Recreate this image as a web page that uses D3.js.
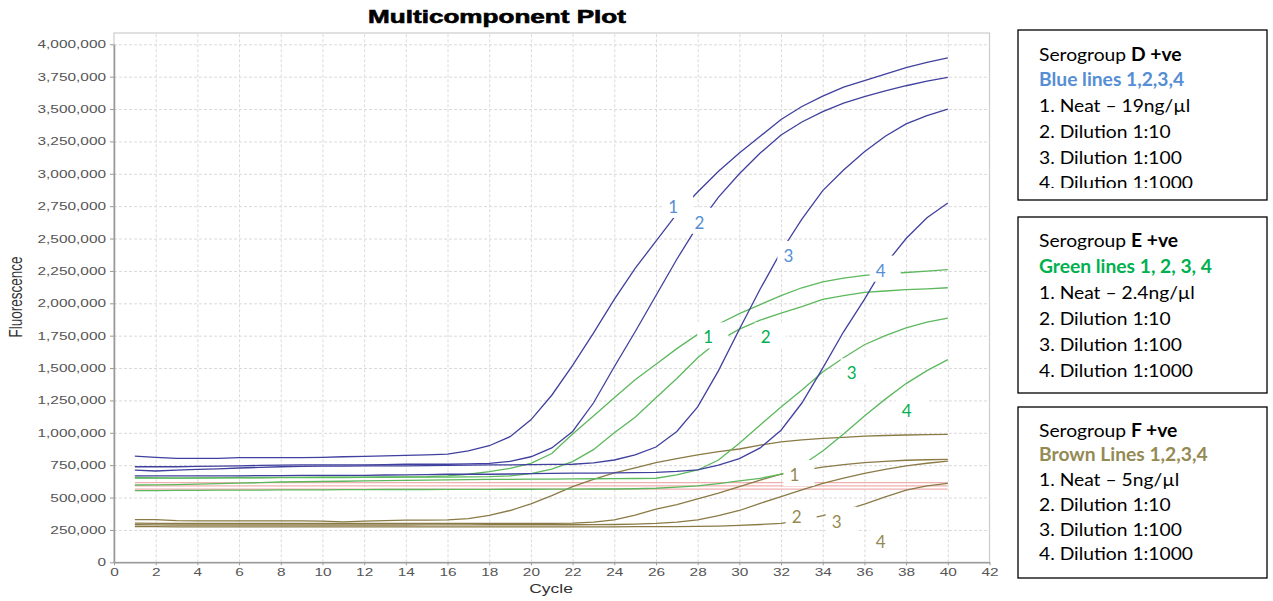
<!DOCTYPE html>
<html>
<head>
<meta charset="utf-8">
<script src="https://cdn.jsdelivr.net/npm/d3@7"></script>
<style>
  body { margin: 0; background: #fff; }
  svg { display: block; }
</style>
</head>
<body>
<svg id="chart" width="1273" height="601"></svg>
<script>
// cycle numbers on the x axis
var cycles = [1,2,3,4,5,6,7,8,9,10,11,12,13,14,15,16,17,18,19,20,
              21,22,23,24,25,26,27,28,29,30,31,32,33,34,35,36,37,38,39,40];
var xTicks = [0,2,4,6,8,10,12,14,16,18,20,22,24,26,28,30,32,34,36,38,40,42];
var yTicks = [0,250000,500000,750000,1000000,1250000,1500000,1750000,2000000,
              2250000,2500000,2750000,3000000,3250000,3500000,3750000,4000000];

// fluorescence, in thousands, per cycle
// serogroup D (blue)
var blue1 = [820,810,803,803,803,808,808,808,808,810,815,818,822,826,830,836,860,900,970,1100,
             1290,1520,1770,2030,2270,2480,2690,2860,3020,3160,3290,3420,3520,3600,3670,3720,3770,3820,3860,3895];
var blue2 = [738,738,738,740,742,745,748,750,752,752,752,753,755,757,757,757,760,764,780,815,
             883,1010,1230,1510,1780,2060,2340,2600,2820,3000,3160,3300,3400,3480,3545,3595,3640,3680,3715,3745];
var blue3 = [712,705,712,718,722,728,733,738,740,742,743,744,744,745,746,748,750,752,753,755,
             756,757,768,790,830,890,1010,1200,1480,1800,2110,2400,2650,2870,3030,3170,3290,3385,3450,3500];
var blue4 = [668,668,668,668,668,668,670,670,672,672,672,672,674,675,677,680,680,680,682,684,
             686,688,688,690,692,695,702,713,751,800,883,1020,1230,1500,1780,2030,2300,2500,2660,2775];
// serogroup E (green)
var green1 = [655,652,650,650,652,655,655,656,656,657,658,658,659,660,662,668,680,700,725,764,
              840,990,1130,1270,1410,1530,1650,1760,1840,1920,1990,2060,2120,2165,2195,2215,2228,2238,2248,2260];
var green2 = [650,650,650,652,652,653,653,654,655,655,655,656,656,657,657,658,660,662,668,685,
              720,777,870,1000,1120,1270,1420,1580,1710,1800,1870,1925,1975,2030,2060,2085,2095,2105,2112,2120];
var green3 = [597,598,600,604,608,612,615,620,622,624,626,628,630,632,634,636,638,640,641,642,
              643,644,645,646,647,649,675,713,790,920,1060,1200,1330,1470,1580,1680,1750,1810,1855,1885];
var green4 = [553,553,555,556,557,558,558,560,560,560,561,561,562,562,562,563,563,563,564,564,
              565,565,566,566,568,572,580,590,608,628,648,680,750,860,990,1130,1260,1380,1480,1565];
// serogroup F (brown)
var brown1 = [330,330,322,320,320,320,320,320,320,318,312,318,322,325,326,328,338,362,400,452,
              515,585,640,690,730,770,800,830,855,875,905,930,945,957,965,975,979,983,986,988];
var brown2 = [302,301,300,300,300,300,300,300,300,300,300,300,300,300,300,300,300,300,300,300,
              300,302,310,327,365,410,445,490,535,585,635,680,710,735,755,770,780,788,792,795];
var brown3 = [290,289,288,288,288,288,288,288,288,288,288,288,288,288,289,289,289,290,290,290,
              290,290,291,292,295,300,310,327,360,400,455,507,560,610,650,687,718,744,765,782];
var brown4 = [275,275,274,274,274,274,274,274,274,274,274,274,274,274,274,274,274,274,274,274,
              274,274,274,274,275,275,276,277,280,285,292,300,325,360,400,450,505,558,590,610];
// passive reference traces (pink, flat)
var pink1 = [615,615,615,615,615,615,615,615,615,615,615,615,615,615,615,615,615,615,615,615,
             615,615,615,615,615,615,615,615,615,615,615,615,615,615,615,615,615,615,615,615];
var pink2 = [590,590,590,590,590,590,590,590,590,590,590,590,590,590,590,590,590,590,590,590,
             590,590,590,590,590,590,590,590,590,590,590,590,590,590,590,590,590,590,590,590];
var pink3 = [565,565,565,565,565,565,565,565,565,565,565,565,565,565,565,565,565,565,565,565,
             565,565,565,565,565,565,565,565,565,565,565,565,565,565,565,565,565,565,565,565];

// numbered tags placed on the curves
var tagText  = ["1","2","3","4", "1","2","3","4", "1","2","3","4"];
var tagGroup = ["D","D","D","D", "E","E","E","E", "F","F","F","F"];
var tagCycle = [26.82,28.08,32.35,36.78, 28.51,31.26,35.39,38.03, 32.64,32.75,34.67,36.78];
var tagValue = [2744000,2622000,2365000,2252000, 1737000,1737000,1459000,1171000, 674000,352000,314000,159000];

// legend texts
var legendGroup = ["D","E","F"];
var legendSub = ["Blue lines 1,2,3,4", "Green lines 1, 2, 3, 4", "Brown Lines 1,2,3,4"];
var legendItems = [
  ["1. Neat \u2013 19ng/\u00b5l", "2. Dilution 1:10", "3. Dilution 1:100", "4. Dilution 1:1000"],
  ["1. Neat \u2013 2.4ng/\u00b5l", "2. Dilution 1:10", "3. Dilution 1:100", "4. Dilution 1:1000"],
  ["1. Neat \u2013 5ng/\u00b5l", "2. Dilution 1:10", "3. Dilution 1:100", "4. Dilution 1:1000"]
];

var lineColor = { D: "#40409e", E: "#5cb85c", F: "#8a7a45", P: "#f0b0b0" };
var textColor = { D: "#558ed5", E: "#00b050", F: "#948a54" };

var svg = d3.select("#chart");
var plot = { left: 114, right: 989.5, top: 33, bottom: 562.3 };
var x = d3.scaleLinear().domain([0, 42]).range([plot.left, plot.right]);
var y = d3.scaleLinear().domain([0, 4000000]).range([plot.bottom, 44.3]);
var sx = 1.4; // the source picture is stretched sideways

// grid
svg.append("g")
    .attr("transform", `translate(0,${plot.bottom})`)
    .call(d3.axisBottom(x).tickValues(xTicks.slice(1, -1)).tickSize(-(plot.bottom - plot.top)).tickFormat(""))
    .call(g => g.select(".domain").remove())
    .call(g => g.selectAll("line").attr("stroke", "#dadada").attr("stroke-dasharray", "3,2"));
svg.append("g")
    .attr("transform", `translate(${plot.left},0)`)
    .call(d3.axisLeft(y).tickValues(yTicks.slice(1)).tickSize(-(plot.right - plot.left)).tickFormat(""))
    .call(g => g.select(".domain").remove())
    .call(g => g.selectAll("line").attr("stroke", "#dadada").attr("stroke-dasharray", "3,2"));

svg.append("rect")
    .attr("x", plot.left).attr("y", plot.top)
    .attr("width", plot.right - plot.left).attr("height", plot.bottom - plot.top)
    .attr("fill", "none").attr("stroke", "#cccccc").attr("stroke-width", 1.2);

// axes
var yAxis = svg.append("g")
    .attr("transform", `translate(${plot.left},0)`)
    .call(d3.axisLeft(y).tickValues(yTicks).tickSize(4).tickSizeOuter(0).tickFormat(d3.format(",")));
yAxis.selectAll("text")
    .attr("x", -8 / sx)
    .attr("transform", `scale(${sx},1)`);
var xAxis = svg.append("g")
    .attr("transform", `translate(0,${plot.bottom})`)
    .call(d3.axisBottom(x).tickValues(xTicks).tickSize(3).tickSizeOuter(0));
xAxis.selectAll("text")
    .attr("transform", `scale(${sx},1)`);
[yAxis, xAxis].forEach(function (g) {
  g.attr("font-family", "'Liberation Sans', Arial, sans-serif").attr("font-size", 11);
  g.select(".domain").attr("stroke", "#9a9a9a").attr("stroke-width", 1.6);
  g.selectAll(".tick line").attr("stroke", "#9a9a9a");
  g.selectAll("text").attr("fill", "#555");
});

// titles
svg.append("text")
    .attr("transform", `translate(497,23) scale(1.45,1)`)
    .attr("text-anchor", "middle")
    .attr("font-family", "'Liberation Sans', Arial, sans-serif")
    .attr("font-weight", "bold").attr("font-size", 18)
    .attr("stroke", "#000").attr("stroke-width", 0.6)
    .text("Multicomponent Plot");
svg.append("text")
    .attr("transform", `translate(551,593) scale(${sx},1)`)
    .attr("text-anchor", "middle")
    .attr("font-family", "'Liberation Sans', Arial, sans-serif")
    .attr("font-size", 12.5).attr("fill", "#333")
    .text("Cycle");
svg.append("text")
    .attr("transform", "translate(22,297) rotate(-90) scale(1,1.3)")
    .attr("text-anchor", "middle")
    .attr("font-family", "'Liberation Sans', Arial, sans-serif")
    .attr("font-size", 13.5).attr("fill", "#333")
    .text("Fluorescence");

// curves
var series = [
  { v: pink1, c: "P" }, { v: pink2, c: "P" }, { v: pink3, c: "P" },
  { v: brown4, c: "F" }, { v: brown3, c: "F" }, { v: brown2, c: "F" }, { v: brown1, c: "F" },
  { v: green4, c: "E" }, { v: green3, c: "E" }, { v: green2, c: "E" }, { v: green1, c: "E" },
  { v: blue4, c: "D" }, { v: blue3, c: "D" }, { v: blue2, c: "D" }, { v: blue1, c: "D" }
];
var line = d3.line()
    .x((d, i) => x(cycles[i]))
    .y(d => y(d * 1000));
svg.append("g")
    .selectAll("path")
    .data(series)
    .enter().append("path")
    .attr("d", d => line(d.v))
    .attr("fill", "none")
    .attr("stroke", d => lineColor[d.c])
    .attr("stroke-width", d => d.c == "P" ? 1.1 : 1.3);

// number tags with white boxes
var tags = svg.append("g")
    .selectAll("g")
    .data(tagText.map((t, i) => ({ t: t, g: tagGroup[i], cx: x(tagCycle[i]), cy: y(tagValue[i]) })))
    .enter().append("g");
tags.append("rect")
    .attr("x", d => d.cx - 11).attr("y", d => d.cy - 15)
    .attr("width", 31).attr("height", 26)
    .attr("fill", "#fff");
tags.append("text")
    .attr("x", d => d.cx).attr("y", d => d.cy + 6)
    .attr("text-anchor", "middle")
    .attr("font-family", "Lato, 'Open Sans', sans-serif")
    .attr("font-size", 17)
    .attr("fill", d => textColor[d.g])
    .text(d => d.t);

// legend boxes
var boxTop = [30, 217, 407], boxBottom = [200, 393, 578];
var firstLine = [60.7, 247.3, 436.7], lineGap = [25.7, 25.9, 24.7];
var defs = svg.append("defs");
legendGroup.forEach(function (g, k) {
  defs.append("clipPath").attr("id", "clip" + k)
    .append("rect").attr("x", 1018).attr("y", boxTop[k])
    .attr("width", 249).attr("height", (k == 0 ? 188 : boxBottom[k]) - boxTop[k]);
  var box = svg.append("g");
  box.append("rect")
      .attr("x", 1018).attr("y", boxTop[k])
      .attr("width", 249).attr("height", boxBottom[k] - boxTop[k])
      .attr("fill", "#fff").attr("stroke", "#000").attr("stroke-width", 1.3);
  var tx = box.append("g").attr("clip-path", `url(#clip${k})`)
      .attr("font-family", "Lato, 'Open Sans', sans-serif").attr("font-size", 18);
  var t0 = tx.append("text")
      .attr("transform", `translate(1039,${firstLine[k]}) scale(1.07,1)`).attr("fill", "#000");
  t0.append("tspan").text("Serogroup ");
  t0.append("tspan").attr("font-weight", "bold").text(g + " +ve");
  tx.append("text")
      .attr("transform", `translate(1039,${firstLine[k] + lineGap[k]}) scale(1.07,1)`)
      .attr("font-weight", "bold").attr("fill", textColor[g])
      .text(legendSub[k]);
  legendItems[k].forEach(function (s, j) {
    tx.append("text")
        .attr("transform", `translate(1039,${firstLine[k] + lineGap[k] * (j + 2)}) scale(1.07,1)`)
        .attr("fill", "#000")
        .text(s);
  });
});
</script>
</body>
</html>
